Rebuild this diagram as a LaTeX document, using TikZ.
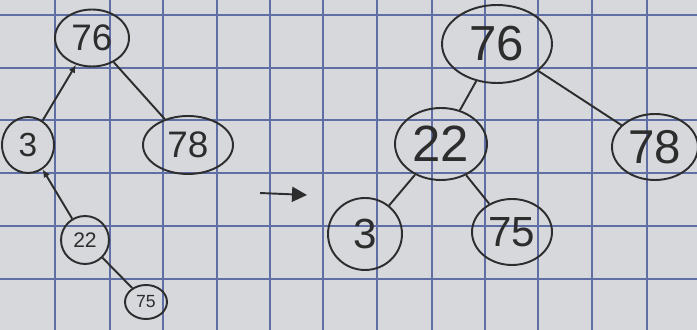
\documentclass[tikz,border=0pt]{standalone}
\usepackage{fontspec}
\setmainfont{Liberation Sans}
\usetikzlibrary{arrows.meta,shapes.geometric}
\definecolor{paper}{RGB}{214,216,220}
\definecolor{gridblue}{RGB}{95,110,165}
\definecolor{ink}{RGB}{45,45,45}

\begin{document}
\begin{tikzpicture}[x=0.02cm, y=-0.02cm, >=Latex,
    key/.style={draw=ink, ellipse, line width=1.1pt, inner sep=0pt, text=ink},
    link/.style={draw=ink, line width=1.1pt}]
  \fill[paper] (0,0) rectangle (697,330);
  \useasboundingbox (0,0) rectangle (697,330);
  % graph paper
  \foreach \gx in {55,110,163,217,270,323,377,432,485,538,592,647}
    \draw[gridblue, line width=0.9pt] (\gx,0) -- (\gx,330);
  \foreach \gy in {15,68,120,173,226,279}
    \draw[gridblue, line width=0.9pt] (0,\gy) -- (697,\gy);

  % tree before
  \node[key, minimum width=1.48cm, minimum height=1.14cm, font=\fontsize{21}{21}\selectfont] (l76) at (92,38) {76};
  \node[key, minimum width=1.04cm, minimum height=1.12cm, font=\fontsize{19}{19}\selectfont] (l3) at (28,145) {3};
  \node[key, minimum width=1.8cm, minimum height=1.16cm, font=\fontsize{21}{21}\selectfont] (l78) at (188,145) {78};
  \node[key, minimum width=0.96cm, minimum height=0.96cm, font=\fontsize{12}{12}\selectfont] (l22) at (85,240) {22};
  \node[key, minimum width=0.84cm, minimum height=0.68cm, font=\fontsize{10}{10}\selectfont] (l75) at (146,302) {75};
  \draw[link, -{Latex[length=1.6mm,width=1.4mm]}] (l3) -- (l76);
  \draw[link] (l76) -- (l78);
  \draw[link, -{Latex[length=1.6mm,width=1.4mm]}] (l22) -- (l3);
  \draw[link] (l22) -- (l75);

  % rotation
  \coordinate (from) at (260,193);
  \coordinate (to) at (307,195);
  \draw[link, -{Triangle[length=3mm,width=3mm]}] (from) -- (to);

  % tree after
  \node[key, minimum width=2.2cm, minimum height=1.56cm, font=\fontsize{28}{28}\selectfont] (r76) at (497,44) {76};
  \node[key, minimum width=1.84cm, minimum height=1.44cm, font=\fontsize{29}{29}\selectfont] (r22) at (441,144) {22};
  \node[key, minimum width=1.72cm, minimum height=1.32cm, font=\fontsize{27}{27}\selectfont] (r78) at (655,147) {78};
  \node[key, minimum width=1.48cm, minimum height=1.44cm, font=\fontsize{24}{24}\selectfont] (r3) at (365,234) {3};
  \node[key, minimum width=1.6cm, minimum height=1.32cm, font=\fontsize{24}{24}\selectfont] (r75) at (512,232) {75};
  \draw[link] (r76) -- (r22);
  \draw[link] (r76) -- (r78);
  \draw[link] (r22) -- (r3);
  \draw[link] (r22) -- (r75);
\end{tikzpicture}
\end{document}
